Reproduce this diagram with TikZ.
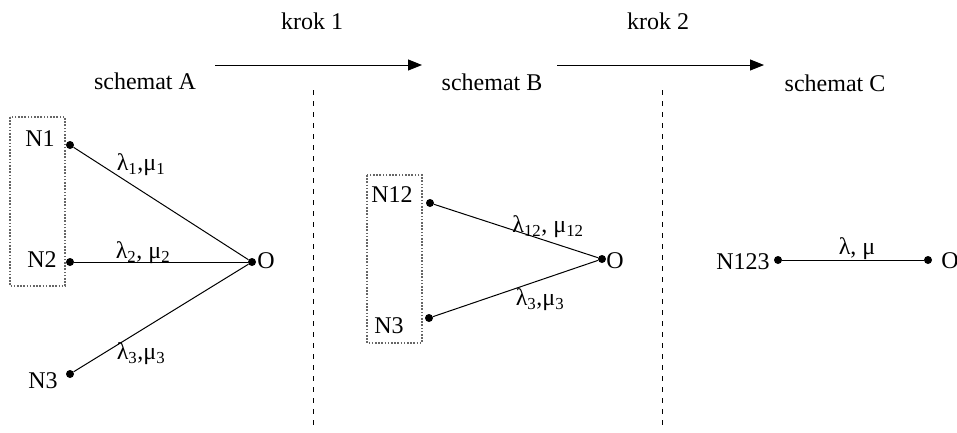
\documentclass[tikz,border=0pt]{standalone}
\usepackage{fontspec}
\setmainfont{Liberation Serif}
\usetikzlibrary{arrows.meta}
\newcommand\lsub[1]{\textsubscript{#1}}
\begin{document}
\begin{tikzpicture}[x=1pt,y=-1pt,
  txt/.style={font=\fontsize{24}{28}\selectfont, inner sep=0pt},
  dot/.style={circle, fill=black, inner sep=0pt, minimum size=8pt},
  link/.style={line width=1pt},
  group/.style={draw=black!60, line width=1.2pt, dash pattern=on 1.6pt off 1.6pt},
  divider/.style={line width=1pt, dash pattern=on 5pt off 6pt},
  stage/.style={line width=1pt, -{Triangle[length=14pt,width=11pt]}}]
\useasboundingbox (0,0) rectangle (957,432);

% headings and step arrows
\node[txt] (hA) at (145,81) {schemat A};
\node[txt] (hB) at (492,82) {schemat B};
\node[txt] (hC) at (835,83) {schemat C};
\node[txt] (k1) at (312,21) {krok 1};
\node[txt] (k2) at (658,21) {krok 2};
\coordinate (s1a) at (215,65);
\coordinate (s1b) at (422,65);
\coordinate (s2a) at (557,65);
\coordinate (s2b) at (764,65);
\draw[stage] (s1a) -- (s1b);
\draw[stage] (s2a) -- (s2b);

% separators
\coordinate (d1a) at (313,90);
\coordinate (d1b) at (313,430);
\coordinate (d2a) at (662,90);
\coordinate (d2b) at (662,430);
\draw[divider] (d1a) -- (d1b);
\draw[divider] (d2a) -- (d2b);

% scheme A
\draw[group] (10,117) rectangle (65,286);
\node[dot] (a1) at (70,145) {};
\node[dot] (a2) at (70,262) {};
\node[dot] (a3) at (70,374) {};
\node[dot] (ao) at (252,262) {};
\node[txt] (ta1) at (40,139) {N1};
\node[txt] (ta2) at (42,260) {N2};
\node[txt] (ta3) at (43,381) {N3};
\node[txt] (tao) at (266,261) {O};
\draw[link] (a1) -- (ao);
\draw[link] (a2) -- (ao);
\draw[link] (a3) -- (ao);
\node[txt] (la1) at (141,165) {λ\lsub{1},μ\lsub{1}};
\node[txt] (la2) at (143,253) {λ\lsub{2}, μ\lsub{2}};
\node[txt] (la3) at (141,354) {λ\lsub{3},μ\lsub{3}};

% scheme B
\draw[group] (367,175) rectangle (422,343);
\node[dot] (b1) at (430,203) {};
\node[dot] (b3) at (429,318) {};
\node[dot] (bo) at (602,259) {};
\node[txt] (tb1) at (392,195) {N12};
\node[txt] (tb3) at (389,326) {N3};
\node[txt] (tbo) at (615,261) {O};
\draw[link] (b1) -- (bo);
\draw[link] (b3) -- (bo);
\node[txt] (lb1) at (548,227) {λ\lsub{12}, μ\lsub{12}};
\node[txt] (lb3) at (540,300) {λ\lsub{3},μ\lsub{3}};

% scheme C
\node[dot] (c1) at (778,260) {};
\node[dot] (co) at (928,260) {};
\node[txt] (tc1) at (743,262) {N123};
\node[txt] (tco) at (950,261) {O};
\draw[link] (c1) -- (co);
\node[txt] (lc) at (857,249) {λ, μ};
\end{tikzpicture}
\end{document}
